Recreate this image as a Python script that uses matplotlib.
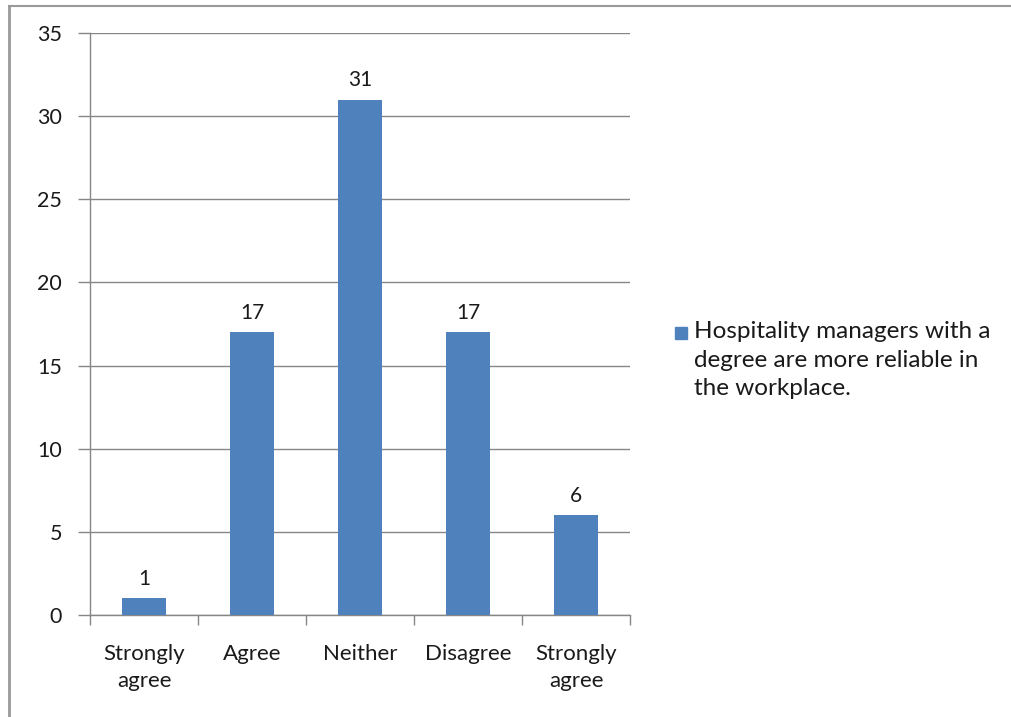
import numpy as np
import matplotlib.pyplot as plt
from matplotlib.patches import Rectangle
from matplotlib.lines import Line2D

categories = ["Strongly\nagree", "Agree", "Neither", "Disagree", "Strongly\nagree"]
values = [1, 17, 31, 17, 6]
series_name = "Hospitality managers with a\ndegree are more reliable in\nthe workplace."
y_ticks = [0, 5, 10, 15, 20, 25, 30, 35]

bar_color = "#4F81BD"
grid_color = "#868686"
text_color = "#1a1a1a"
plt.rcParams['font.family'] = ['Lato', 'DejaVu Sans']

fig = plt.figure(figsize=(10.11, 7.17), dpi=100)
ax = fig.add_axes([90 / 1011, 102 / 717, 540 / 1011, 582 / 717])

x = np.arange(len(categories))
ax.bar(x, values, width=0.4, color=bar_color, zorder=3)
for xi, v in zip(x, values):
    ax.annotate(str(v), (xi, v), xytext=(0, 7), textcoords="offset points",
                ha="center", va="bottom", fontsize=15, color=text_color)

ax.set_xlim(-0.5, len(categories) - 0.5)
ax.set_ylim(0, 35)
ax.set_yticks(y_ticks)
ax.set_yticklabels([str(t) for t in y_ticks], fontsize=15.5, color=text_color)
ax.set_xticks(x)
ax.set_xticklabels(categories, fontsize=16, color=text_color, linespacing=1.45)
ax.yaxis.grid(True, color=grid_color, linewidth=1, zorder=0)

# category boundary ticks
ax.set_xticks(np.arange(len(categories) + 1) - 0.5, minor=True)
ax.tick_params(axis="x", which="major", length=0, pad=21)
ax.tick_params(axis="x", which="minor", length=7, color=grid_color, width=1)
ax.tick_params(axis="y", length=9, color=grid_color, width=1, pad=11)

for side in ["top", "right"]:
    ax.spines[side].set_visible(False)
for side in ["left", "bottom"]:
    ax.spines[side].set_color(grid_color)
    ax.spines[side].set_linewidth(1)

# legend
fig.patches.append(Rectangle((675 / 1011, 1 - 339 / 717), 12 / 1011, 12 / 717,
                             transform=fig.transFigure, color=bar_color))
fig.text(694 / 1011, 1 - 321 / 717, series_name, fontsize=17.5,
         va="top", ha="left", linespacing=1.45, color=text_color)

# chart border
fig.lines.append(Line2D([9 / 1011, 9 / 1011], [0, 1 - 6 / 717], transform=fig.transFigure,
                        color="#999999", linewidth=2))
fig.lines.append(Line2D([9 / 1011, 1], [1 - 6 / 717, 1 - 6 / 717], transform=fig.transFigure,
                        color="#999999", linewidth=1.5))

fig.savefig("out.png", dpi=100)
